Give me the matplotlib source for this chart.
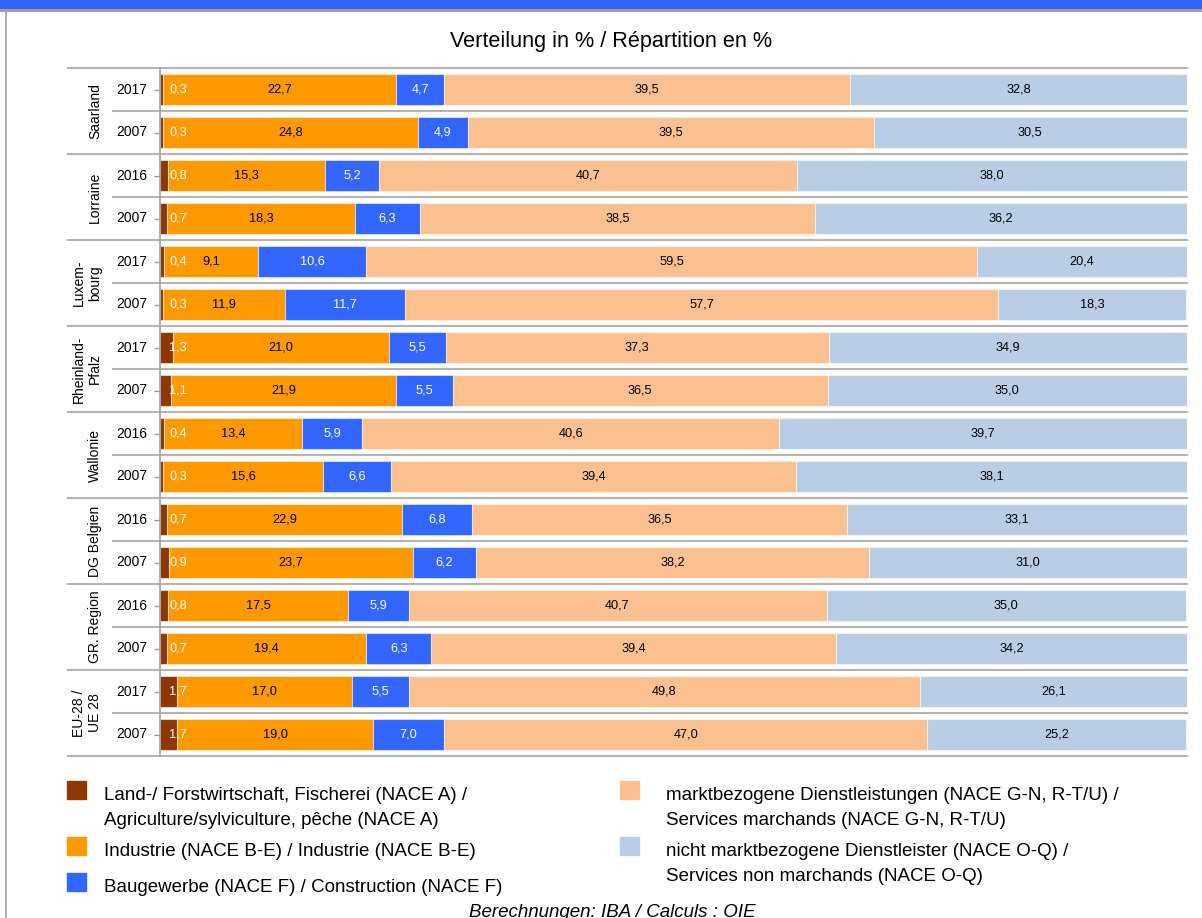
import matplotlib.pyplot as plt
import numpy as np
from matplotlib.lines import Line2D
from matplotlib.patches import Rectangle

plt.rcParams["font.family"] = ["Liberation Sans", "DejaVu Sans"]

REGIONS = [
    "Saarland",
    "Lorraine",
    "Luxem-\nbourg",
    "Rheinland-\nPfalz",
    "Wallonie",
    "DG Belgien",
    "GR. Region",
    "EU-28 /\nUE 28",
]
YEARS = [
    "2017", "2007",
    "2016", "2007",
    "2017", "2007",
    "2017", "2007",
    "2016", "2007",
    "2016", "2007",
    "2016", "2007",
    "2017", "2007",
]

# shares in %, one value per row (top to bottom)
AGRI = [0.3, 0.3, 0.8, 0.7, 0.4, 0.3, 1.3, 1.1, 0.4, 0.3, 0.7, 0.9, 0.8, 0.7, 1.7, 1.7]
INDUSTRY = [22.7, 24.8, 15.3, 18.3, 9.1, 11.9, 21.0, 21.9, 13.4, 15.6, 22.9, 23.7, 17.5, 19.4, 17.0, 19.0]
CONSTRUCTION = [4.7, 4.9, 5.2, 6.3, 10.6, 11.7, 5.5, 5.5, 5.9, 6.6, 6.8, 6.2, 5.9, 6.3, 5.5, 7.0]
MARKET = [39.5, 39.5, 40.7, 38.5, 59.5, 57.7, 37.3, 36.5, 40.6, 39.4, 36.5, 38.2, 40.7, 39.4, 49.8, 47.0]
NON_MARKET = [32.8, 30.5, 38.0, 36.2, 20.4, 18.3, 34.9, 35.0, 39.7, 38.1, 33.1, 31.0, 35.0, 34.2, 26.1, 25.2]

SECTOR_LABELS = [
    "Land-/ Forstwirtschaft, Fischerei (NACE A) /\nAgriculture/sylviculture, pêche (NACE A)",
    "Industrie (NACE B-E) / Industrie (NACE B-E)",
    "Baugewerbe (NACE F) / Construction (NACE F)",
    "marktbezogene Dienstleistungen (NACE G-N, R-T/U) /\nServices marchands (NACE G-N, R-T/U)",
    "nicht marktbezogene Dienstleister (NACE O-Q) /\nServices non marchands (NACE O-Q)",
]
COLORS = ["#8C3800", "#FF9900", "#3366FF", "#FAC090", "#B9CDE5"]
TEXT_COLORS = ["white", "black", "white", "black", "black"]

W, H = 1202, 918
fig = plt.figure(figsize=(W / 100, H / 100), dpi=100)
ax = fig.add_axes([160 / W, 1 - 756 / H, 1027 / W, 688 / H])


def px_x(x):
    return x / W


def px_y(y):
    return 1 - y / H


def fmt(v):
    return f"{v:.1f}".replace(".", ",")


series = [AGRI, INDUSTRY, CONSTRUCTION, MARKET, NON_MARKET]
rows = np.arange(len(YEARS)) + 0.5
left = np.zeros(len(YEARS))
for i, (vals, color) in enumerate(zip(series, COLORS)):
    vals = np.array(vals)
    ax.barh(rows, vals, left=left, height=0.70, color=color,
            edgecolor=(1, 1, 1, 0.5), linewidth=0.8, zorder=2)
    for r, v, l in zip(rows, vals, left):
        if i == 0:
            # tiny first segment: label sits just right of the axis
            ax.text(0.88, r, fmt(v), ha="left", va="center",
                    fontsize=9.2, color=TEXT_COLORS[i], zorder=3)
        else:
            ax.text(l + v / 2, r, fmt(v), ha="center", va="center",
                    fontsize=9.2, color=TEXT_COLORS[i], zorder=3)
    left += vals

ax.set_xlim(0, 100)
ax.set_ylim(len(YEARS), 0)
ax.set_xticks([])
ax.set_yticks(rows)
ax.set_yticklabels([])
ax.tick_params(axis="y", length=4, width=1, color="#a0a0a0")
for name, spine in ax.spines.items():
    spine.set_visible(name == "left")
ax.spines["left"].set_color("#a0a0a0")
ax.spines["left"].set_linewidth(1.2)

# separators: long ones between regions, short ones between years
ytrans = ax.get_yaxis_transform()
for k in range(len(YEARS) + 1):
    x0 = (68 - 160) / 1027 if k % 2 == 0 else (113 - 160) / 1027
    ax.add_line(Line2D([x0, 1.0], [k, k], transform=ytrans, color="#b4b4b4",
                       linewidth=1.5, clip_on=False, zorder=1))

# year labels and rotated region labels
for r, year in zip(rows, YEARS):
    ax.text((147 - 160) / 1027, r, year, transform=ytrans, ha="right",
            va="center", fontsize=10)
for g, region in enumerate(REGIONS):
    ax.text((102 - 160) / 1027, 2 * g + 1, region, transform=ytrans,
            ha="right", va="center", rotation=90, fontsize=10,
            multialignment="center")

fig.text(px_x(611), px_y(42), "Verteilung in % / Répartition en %",
         ha="center", va="center", fontsize=15.6)

# header band and frame
fig.patches.append(Rectangle((0, px_y(8)), 1, 8 / H, transform=fig.transFigure,
                             color="#3366FF", zorder=0))
fig.lines.append(Line2D([0, 1], [px_y(9.5), px_y(9.5)], transform=fig.transFigure,
                        color="#999999", linewidth=2))
fig.lines.append(Line2D([px_x(6), px_x(6)], [0, px_y(10)], transform=fig.transFigure,
                        color="#a0a0a0", linewidth=1.2))

# legend, two columns
legend_pos = [
    (67, 781, 104, 808),
    (67, 837, 104, 852),
    (67, 873, 104, 887),
    (620, 781, 666, 808),
    (620, 837, 666, 864),
]
for (sx, sy, tx, ty), label, color in zip(legend_pos, SECTOR_LABELS, COLORS):
    fig.patches.append(Rectangle((px_x(sx), px_y(sy + 18)), 19 / W, 18 / H,
                                 transform=fig.transFigure, color=color))
    fig.text(px_x(tx), px_y(ty), label, ha="left", va="center",
             fontsize=13.5, linespacing=1.58)

fig.text(px_x(612), px_y(917), "Berechnungen: IBA / Calculs : OIE",
         ha="center", va="baseline", fontsize=13.5, style="italic")

fig.savefig("out.png", dpi=100)
